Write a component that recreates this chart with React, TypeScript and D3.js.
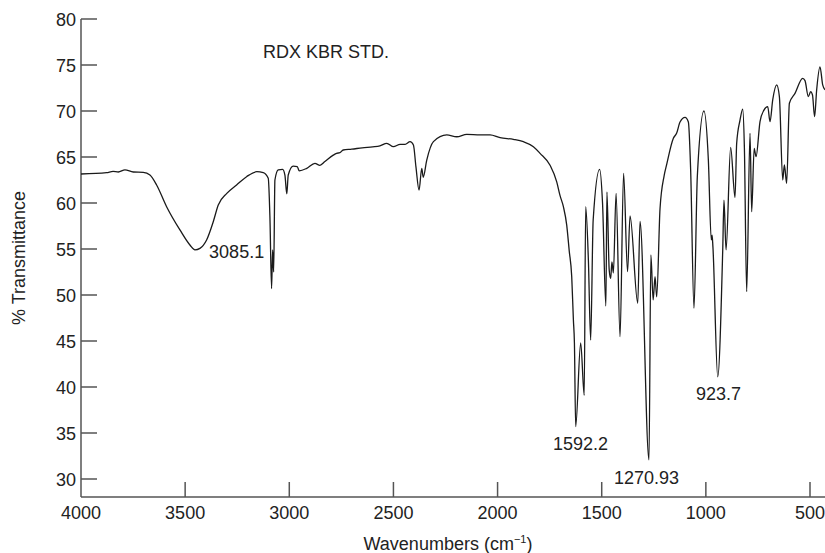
import React from "react";
import * as d3 from "d3";

const wavenumbers = [
  4000, 3877, 3846, 3821, 3789, 3749, 3701, 3669, 3637, 3589, 3525, 3477, 3453, 3429, 3397, 3365, 3341, 3300,
  3253, 3205, 3156, 3125, 3101, 3093, 3085, 3080, 3075, 3069, 3053, 3032, 3021, 3012, 3005, 2981, 2962, 2952,
  2916, 2877, 2853, 2829, 2789, 2773, 2757, 2741, 2700, 2650, 2600, 2565, 2532, 2500, 2468, 2444, 2420, 2404,
  2392, 2377, 2364, 2357, 2340, 2308, 2244, 2196, 2148, 2084, 2036, 1988, 1924, 1876, 1828, 1796, 1748, 1716,
  1700, 1684, 1668, 1656, 1644, 1636, 1631, 1625, 1601, 1584, 1577, 1564, 1553, 1541, 1510, 1496, 1480, 1475,
  1464, 1457, 1451, 1444, 1431, 1412, 1395, 1376, 1364, 1327, 1316, 1273, 1264, 1253, 1244, 1236, 1220, 1200,
  1188, 1156, 1140, 1124, 1100, 1084, 1073, 1057, 1041, 1009, 988, 974, 970, 966, 943, 919, 913, 903, 881, 860,
  852, 836, 823, 815, 804, 788, 780, 768, 759, 740, 721, 703, 692, 679, 660, 647, 631, 623, 612, 599, 572, 535,
  524, 508, 497, 488, 478, 468, 452, 439, 428,
];

const transmittance = [
  63.15, 63.3, 63.44, 63.37, 63.6, 63.37, 63.33, 63.04, 61.96, 59.6, 57.07, 55.43, 54.9, 55.07, 55.98, 57.97, 59.78, 61.05,
  61.96, 62.86, 63.4, 63.3, 62.68, 58.5, 50.7, 54.9, 52.5, 62.5, 63.6, 63.66, 63.04, 61.0, 63.04, 64.0, 63.95, 63.5,
  63.77, 64.3, 64.1, 64.5, 65.2, 65.4, 65.47, 65.76, 65.85, 66.0, 66.1, 66.2, 66.49, 66.12, 66.38, 66.38, 66.67, 66.3,
  63.95, 61.4, 63.77, 62.8, 64.67, 66.67, 67.4, 67.2, 67.47, 67.4, 67.4, 67.1, 66.92, 66.67, 66.12, 65.4, 64.1, 62.3,
  60.8, 59.6, 57.6, 54.8, 52.0, 47.3, 44.75, 35.7, 44.8, 39.1, 59.6, 53.8, 45.1, 58.15, 63.66, 59.97, 48.8, 61.2,
  52.7, 51.8, 53.6, 52.4, 61.05, 45.47, 63.23, 52.54, 58.6, 49.1, 58.0, 32.07, 54.35, 49.46, 52.0, 49.8, 59.4, 63.0,
  64.2, 67.03, 67.6, 68.8, 69.3, 68.8, 63.6, 48.55, 62.86, 70.0, 64.67, 56.0, 56.5, 55.2, 41.1, 54.9, 60.3, 54.9, 66.05, 60.6,
  66.49, 69.0, 70.2, 66.0, 50.36, 67.57, 59.05, 65.94, 65.04, 68.84, 70.1, 70.47, 68.84, 71.2, 72.83, 71.56, 62.5, 64.13, 62.14, 70.84, 71.92, 73.55,
  73.3, 71.56, 72.1, 71.74, 69.38, 72.3, 74.8, 72.83, 72.3,
];

const xTicks = [4000, 3500, 3000, 2500, 2000, 1500, 1000, 500];
const yTicks = [30, 35, 40, 45, 50, 55, 60, 65, 70, 75, 80];

const peakLabels = ["3085.1", "1592.2", "1270.93", "923.7"];
const peakLabelWn = [3385, 1734, 1441, 1047];
const peakLabelT = [53.97, 33.15, 29.46, 38.59];

const title = "RDX KBR STD.";
const xTitle = "Wavenumbers (cm";
const yTitle = "% Transmittance";

export default function App() {
  const W = 825;
  const H = 553;
  const left = 81;
  const bottom = 497;
  const x = d3.scaleLinear().domain([4000, 500]).range([81, 810]);
  const y = d3.scaleLinear().domain([30, 80]).range([479, 19]);

  const pts = wavenumbers.map((w, i) => [w, transmittance[i]] as [number, number]);
  const line = d3
    .line<[number, number]>()
    .x((d) => x(d[0]))
    .y((d) => y(d[1]))
    .curve(d3.curveMonotoneX);

  const font = "'Liberation Sans', Arial, Helvetica, sans-serif";
  const axisColor = "#555";
  const textColor = "#222";

  return (
    <svg
      width={W}
      height={H}
      style={{ position: "absolute", left: 0, top: 0, background: "#fff" }}
      fontFamily={font}
    >
      <rect x={0} y={0} width={W} height={H} fill="#fff" />
      <line x1={left} x2={left} y1={y(80)} y2={bottom} stroke={axisColor} strokeWidth={1.5} />
      <line x1={left} x2={W} y1={bottom} y2={bottom} stroke={axisColor} strokeWidth={1.5} />
      {yTicks.map((t) => (
        <g key={"y" + t}>
          <line x1={left} x2={left + 16} y1={y(t)} y2={y(t)} stroke={axisColor} strokeWidth={1.5} />
          <text x={left - 5} y={y(t) + 6.5} textAnchor="end" fontSize={18} fill={textColor}>
            {t}
          </text>
        </g>
      ))}
      {xTicks.map((t) => (
        <g key={"x" + t}>
          {t !== 4000 && (
            <line x1={x(t)} x2={x(t)} y1={bottom} y2={bottom - 15} stroke={axisColor} strokeWidth={1.5} />
          )}
          <text x={x(t)} y={519} textAnchor="middle" fontSize={18} fill={textColor}>
            {t}
          </text>
        </g>
      ))}
      <path d={line(pts) || ""} fill="none" stroke="#1a1a1a" strokeWidth={1.3} strokeLinejoin="round" />
      <text x={263} y={58} fontSize={18} fill={textColor}>
        {title}
      </text>
      {peakLabels.map((lab, i) => (
        <text key={lab} x={x(peakLabelWn[i])} y={y(peakLabelT[i])} fontSize={18} fill={textColor}>
          {lab}
        </text>
      ))}
      <text x={448} y={550} textAnchor="middle" fontSize={18} fill={textColor}>
        {xTitle}
        <tspan fontSize={11} dy={-7}>
          −1
        </tspan>
        <tspan dy={7}>)</tspan>
      </text>
      <text transform={`translate(25,258) rotate(-90)`} textAnchor="middle" fontSize={18} fill={textColor}>
        {yTitle}
      </text>
    </svg>
  );
}
